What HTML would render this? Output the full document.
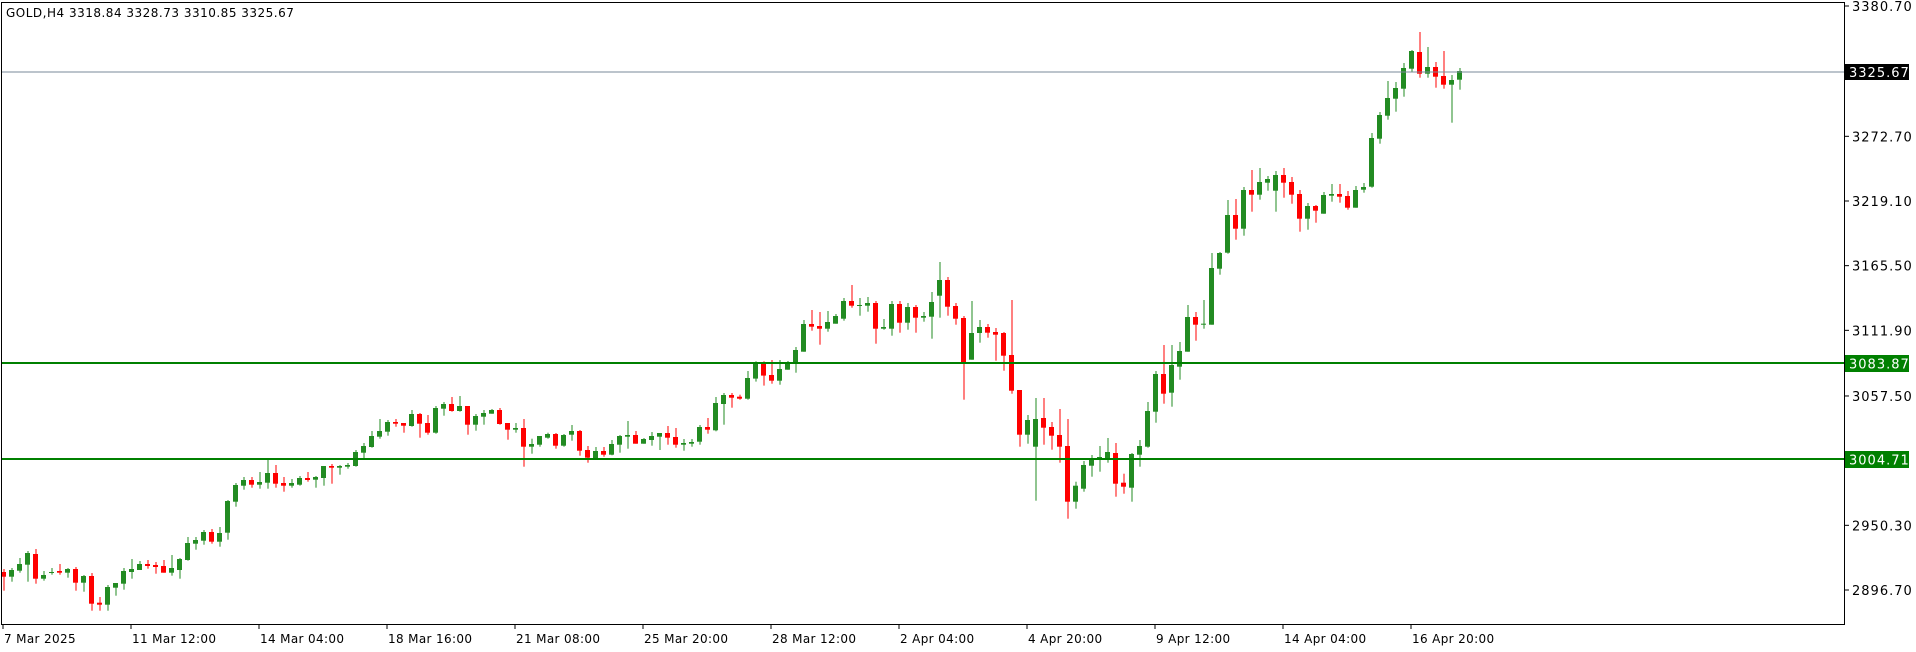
<!DOCTYPE html>
<html><head><meta charset="utf-8">
<style>
html,body{margin:0;padding:0;background:#fff;width:1916px;height:652px;overflow:hidden}
svg{display:block;font-family:"DejaVu Sans","Liberation Sans",sans-serif}
</style></head>
<body>
<svg id="c" width="1916" height="652" xmlns="http://www.w3.org/2000/svg">
<rect x="0" y="0" width="1916" height="652" fill="#fff"/>
<g id="candles"></g>
<line x1="2" y1="72" x2="1844" y2="72" stroke="#7a8a9a" stroke-width="1"/>
<line x1="2" y1="363" x2="1844" y2="363" stroke="#008000" stroke-width="2"/>
<line x1="2" y1="459" x2="1844" y2="459" stroke="#008000" stroke-width="2"/>
<rect x="1.5" y="2.5" width="1843" height="622" fill="none" stroke="#000" stroke-width="1"/>
<g id="axes" fill="#000"></g>
<text x="6" y="17" font-size="12" letter-spacing="0.5">GOLD,H4  3318.84 3328.73 3310.85 3325.67</text>
<rect x="1845" y="64" width="64" height="16" fill="#000"/>
<text x="1849" y="77" font-size="13" fill="#fff" letter-spacing="1">3325.67</text>
<rect x="1845" y="355" width="64" height="17" fill="#008000"/>
<text x="1849" y="368.5" font-size="13" fill="#fff" letter-spacing="1">3083.87</text>
<rect x="1845" y="451" width="64" height="17" fill="#008000"/>
<text x="1849" y="464.5" font-size="13" fill="#fff" letter-spacing="1">3004.71</text>
</svg>
<script>
var segs=[
[420,[[0,456,470,447,512],[1,450,470,444,485],[1,432,452,414,458],[1,399,434,393,485],[0,402,476,387,491],[1,465,476,453,482],[1,456,458,444,464],[0,453,458,432,464],[1,447,458,444,473],[0,447,488,441,512],[1,468,488,465,515],[0,468,551,459,572],[0,548,554,531,572],[1,501,554,495,572],[1,489,503,489,527],[1,453,491,444,509],[1,447,456,417,476],[1,432,450,423,450],[0,432,438,420,446],[0,435,441,426,461],[0,438,458,420,458],[1,444,458,405,467],[1,417,450,414,476],[1,369,420,351,422],[1,360,371,351,389],[1,336,362,330,374],[0,336,365,327,371],[1,339,365,321,380],[1,243,338,240,359],[1,195,245,189,260],[1,180,197,171,209],[0,180,194,171,203],[1,186,194,156,206],[1,159,188,120,206],[0,159,191,135,203],[0,189,197,171,215],[1,189,197,177,203],[1,174,194,168,197],[0,174,180,156,185],[1,171,179,168,203],[1,138,174,138,197],[0,138,143,132,191],[1,138,143,135,164],[1,135,140,129,146],[1,96,138,90,140]]],
[380,[[1,198,218,189,235],[1,168,201,153,203],[1,153,170,117,176],[1,126,155,120,167],[0,126,131,117,140],[0,129,137,129,158],[1,102,138,90,140],[0,102,131,99,173],[0,129,158,105,164],[1,84,158,78,161],[1,72,86,66,107],[0,72,93,51,95],[1,78,93,48,95],[0,78,134,78,164],[1,108,134,102,152],[1,99,110,90,134],[1,90,101,87,101],[0,90,132,84,134],[0,129,149,129,179],[1,144,149,129,158],[0,144,200,117,260],[1,192,200,176,221],[1,168,194,168,200],[1,162,173,158,176],[0,162,197,159,206],[1,165,197,162,200],[1,153,164,135,182],[0,153,212,150,227],[0,210,233,198,248],[1,213,236,201,236],[0,213,224,201,230],[1,192,224,180,226],[1,168,194,165,218],[1,165,170,123,206],[0,165,191,153,191],[1,177,191,174,191],[1,168,180,156,197],[1,159,170,159,210],[0,159,173,138,194],[0,171,194,144,203],[1,189,194,177,212],[1,186,191,177,200],[1,141,185,135,194],[0,141,149,114,161],[1,69,151,51,154],[1,45,72,39,134],[0,45,53,39,83]]],
[250,[[0,440,446,434,449],[1,384,446,363,449],[1,340,386,334,395],[0,340,377,334,407],[0,375,392,330,401],[1,357,392,330,404],[1,339,359,333,359],[1,300,339,291,368],[1,222,305,210,305],[0,222,230,180,242],[0,228,236,186,284],[1,216,236,183,245],[1,198,221,192,221],[1,153,206,144,212],[0,153,167,105,173],[1,165,167,144,197],[1,159,167,141,185],[0,159,236,153,281],[1,231,236,207,239],[1,162,236,153,257],[0,162,218,153,248],[1,171,218,159,239],[0,171,203,165,248],[1,198,203,186,215],[1,156,200,126,266],[1,90,137,36,203],[0,90,170,81,197],[0,168,206,159,224],[0,204,336,198,449],[1,249,329,153,329],[1,231,249,210,278],[0,231,248,222,263],[0,246,254,234,332],[0,249,317,246,362],[0,315,422,150,431],[0,420,554,420,590],[1,510,554,495,581],[1,507,590,444,752],[0,504,533,444,584],[0,531,557,516,599],[0,555,590,477,638],[0,588,755,507,806],[1,707,755,695,776]]],
[280,[[1,555,626,543,635],[1,537,557,525,590],[1,531,535,498,575],[1,516,535,474,548],[0,519,611,489,650],[0,608,620,581,641],[1,522,623,519,665],[1,498,524,480,560],[1,393,500,366,503],[1,282,395,273,428],[0,282,341,195,371],[1,255,338,195,380],[1,213,260,186,299],[1,111,215,75,215],[0,111,134,96,182],[1,131,134,60,146]]],
[150,[[1,354,524,309,524],[1,309,356,306,374],[1,195,308,150,311],[0,195,236,147,269],[1,120,236,111,257],[0,120,134,60,185],[1,96,134,54,149],[1,87,98,78,122],[1,75,122,63,185],[0,75,98,54,143],[0,96,134,81,161],[0,132,206,120,245],[1,168,206,159,239],[0,168,182,165,218],[1,135,191,126,191],[1,132,137,102,155],[0,132,140,102,158]]],
[20,[[0,528,563,513,569],[1,510,563,498,563],[1,501,509,489,518],[1,354,500,339,503],[1,285,356,276,371],[1,234,287,183,299],[1,204,236,186,275],[1,144,206,129,230],[1,93,146,90,155],[0,96,161,36,173],[1,141,161,81,173],[0,141,170,126,203],[0,168,194,93,206],[1,180,194,165,308],[1,153,179,144,209]]]
];
var g=document.getElementById("candles"),out="",i=0;
segs.forEach(function(s){var o=s[0];s[1].forEach(function(c){
 var x=4+8*i;i++;var col=c[0]?"#228b22":"#ff0000";
 var bt=c[1]/3+o,bb=c[2]/3+o,wt=c[3]/3+o,wb=c[4]/3+o;
 if(bb-bt<1)bb=bt+1;
 out+='<rect x="'+(x-0.5)+'" y="'+wt.toFixed(1)+'" width="1" height="'+(wb-wt).toFixed(1)+'" fill="'+col+'"/>';
 out+='<rect x="'+(x-3)+'" y="'+bt.toFixed(1)+'" width="5" height="'+(bb-bt).toFixed(1)+'" fill="'+col+'"/>';
});});
g.innerHTML=out;
var a="",prices=["3380.70","3325.67","3272.70","3219.10","3165.50","3111.90","3057.50","2950.30","2896.70"];
prices.forEach(function(p){var v=parseFloat(p);var y=6+(3380.7-v)*1.2066;
 if(p!=="3325.67"){a+='<line x1="1844" y1="'+y+'" x2="1849" y2="'+y+'" stroke="#000"/>';
 a+='<text x="1852" y="'+(y+5)+'" font-size="13" letter-spacing="1">'+p+'</text>';}});
var labs=["7 Mar 2025","11 Mar 12:00","14 Mar 04:00","18 Mar 16:00","21 Mar 08:00","25 Mar 20:00","28 Mar 12:00","2 Apr 04:00","4 Apr 20:00","9 Apr 12:00","14 Apr 04:00","16 Apr 20:00"];
labs.forEach(function(l,k){var x=3+128*k;a+='<line x1="'+x+'" y1="624" x2="'+x+'" y2="629" stroke="#000"/>';
 a+='<text x="'+(x+1)+'" y="643" font-size="12" letter-spacing="0.35">'+l+'</text>';});
document.getElementById("axes").innerHTML=a;
</script>
</body></html>
